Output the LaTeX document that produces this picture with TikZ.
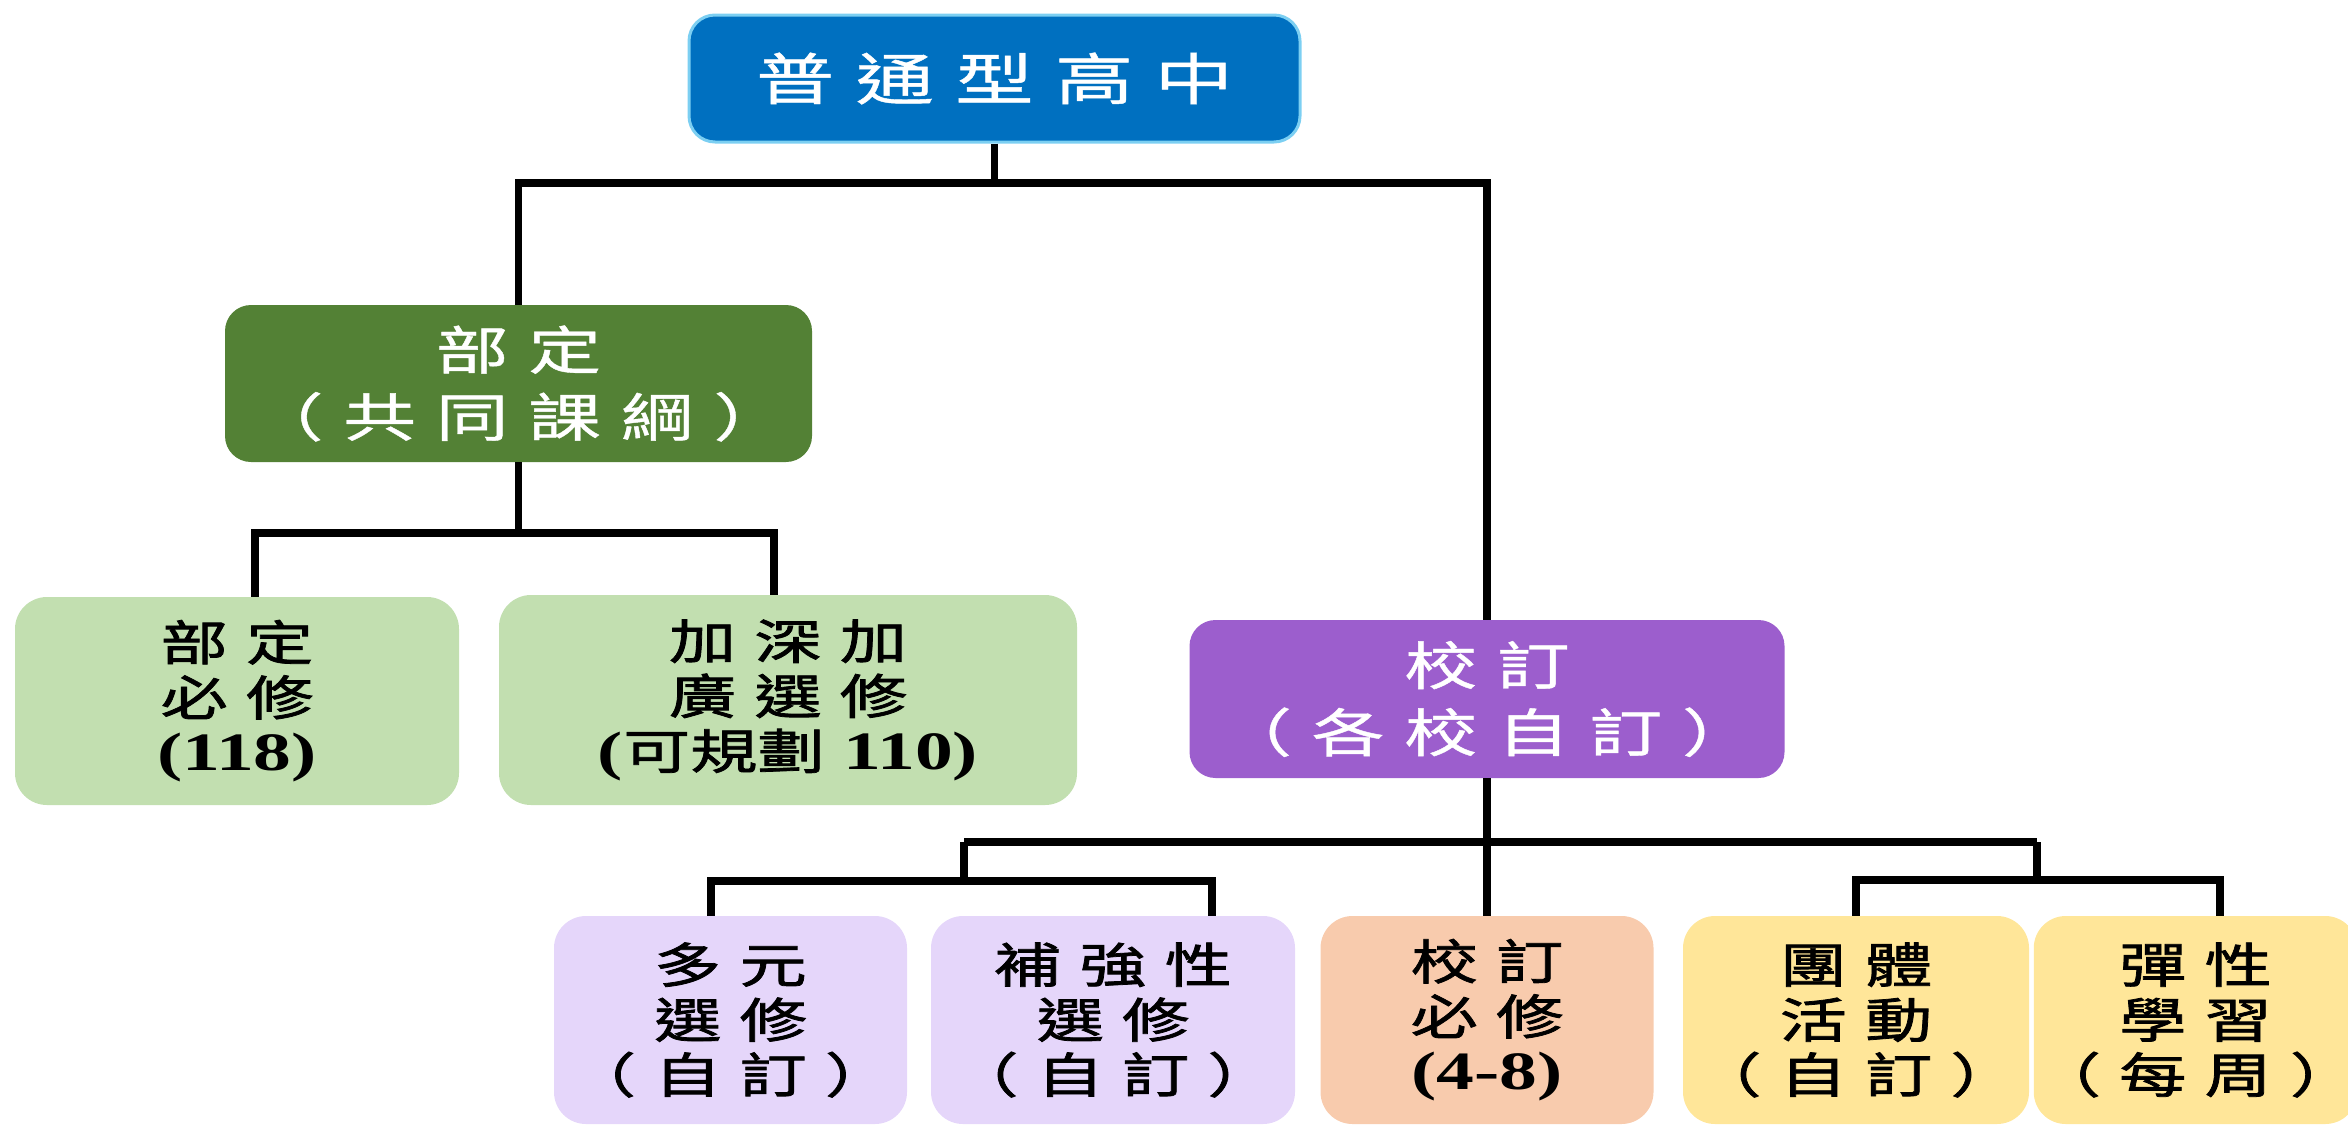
\documentclass[tikz,border=0pt]{standalone}
\usepackage{fontspec}
\usetikzlibrary{calc}
\newfontfamily\cjkfont[FakeStretch=1.4,FakeBold=0.8]{Noto Sans CJK TC}
\newfontfamily\cjkdark[FakeStretch=1.4,FakeBold=1.6]{Noto Sans CJK TC}
\newfontfamily\numfont[FakeStretch=1.4]{Liberation Serif}
\newcommand\gp{\hspace{0.38em}}
\newcommand\nm{\numfont\bfseries\fontsize{27}{27.5}\selectfont}
\definecolor{topblue}{HTML}{0070C0}
\definecolor{topedge}{HTML}{7CCFF2}
\definecolor{hdgreen}{HTML}{538135}
\definecolor{ltgreen}{HTML}{C2DFB0}
\definecolor{hdpurple}{HTML}{9C5ECD}
\definecolor{lavender}{HTML}{E5D6FA}
\definecolor{peach}{HTML}{F8CBAD}
\definecolor{ltyellow}{HTML}{FFE699}
\begin{document}
\begin{tikzpicture}[x=0.5pt,y=-0.5pt,
  sz/.style 2 args={minimum width=#1*0.5pt, minimum height=#2*0.5pt},
  box/.style={rounded corners=13pt, inner sep=0pt, align=center},
  titlebox/.style={box, fill=topblue, draw=topedge, line width=1.5pt, text=white, font=\fontsize{28}{34}\cjkfont},
  header/.style={box, fill=#1, text=white, font=\fontsize{26}{33.5}\cjkfont},
  leaf/.style={box, rounded corners=16pt, fill=#1, text=black, font=\fontsize{24}{27.5}\cjkdark},
  link/.style={line width=3.6pt, draw=black}]
\useasboundingbox (0,0) rectangle (2348,1124);

\node[titlebox, sz={611}{127}] (top) at (994.5,78.5) {普\gp 通\gp 型\gp 高\gp 中};
\node[header=hdgreen, sz={587}{157}] (bd) at (518.5,383.5) {部\gp 定\\（\gp 共\gp 同\gp 課\gp 綱\gp ）};
\node[leaf=ltgreen, sz={444}{208}] (bdbx) at (237,701) {部\gp 定\\必\gp 修\\{\nm (118)}};
\node[leaf=ltgreen, sz={578}{210}] (jsjg) at (788,700) {加\gp 深\gp 加\\廣\gp 選\gp 修\\{\nm (}可規劃{\nm\ 110)}};
\node[header=hdpurple, sz={595}{158}] (xd) at (1487,699) {校\gp 訂\\（\gp 各\gp 校\gp 自\gp 訂\gp ）};

\node[leaf=lavender, sz={353}{208}] (dy) at (730.5,1020) {多\gp 元\\選\gp 修\\（\gp 自\gp 訂\gp ）};
\node[leaf=lavender, sz={364}{208}] (bqx) at (1113,1020) {補\gp 強\gp 性\\選\gp 修\\（\gp 自\gp 訂\gp ）};
\node[leaf=peach, sz={333}{208}] (xdbx) at (1487,1020) {校\gp 訂\\必\gp 修\\{\nm (4-8)}};
\node[leaf=ltyellow, sz={346}{208}] (tt) at (1856,1020) {團\gp 體\\活\gp 動\\（\gp 自\gp 訂\gp ）};
\node[leaf=ltyellow, sz={299}{208}] (tx) at (2195.5,1020) {彈\gp 性\\學\gp 習\\（\gp 每\gp 周\gp ）};

% level 1
\coordinate (busA) at (0,183);
\draw[link] (top.south) -- (top.south |- busA);
\draw[link] (bd.north) |- (busA -| xd.north) -- (xd.north);

% level 2 left
\coordinate (busB) at (0,533);
\coordinate (bdbxT) at ($(bdbx.north)+(18,0)$);
\coordinate (jsjgT) at ($(jsjg.north)+(-14,0)$);
\draw[link] (bd.south) -- (bd.south |- busB);
\draw[link] (bdbxT) |- (busB -| jsjgT) -- (jsjgT);

% level 2 right
\draw[link] (xd.south) -- (xdbx.north);
\coordinate (cL) at (964,842);
\coordinate (cR) at (2037,842);
\coordinate (dL) at (964,881);
\coordinate (dR) at (2037,880);
\coordinate (dyT) at ($(dy.north)+(-19.5,0)$);
\coordinate (bqxT) at ($(bqx.north)+(99,0)$);
\coordinate (txT) at ($(tx.north)+(24.5,0)$);
\draw[link] (cL) -- (cR);
\draw[link] (cL) -- (dL);
\draw[link] (cR) -- (dR);
\draw[link] (dyT) |- (dL) -| (bqxT);
\draw[link] (tt.north) |- (dR) -| (txT);
\end{tikzpicture}
\end{document}
